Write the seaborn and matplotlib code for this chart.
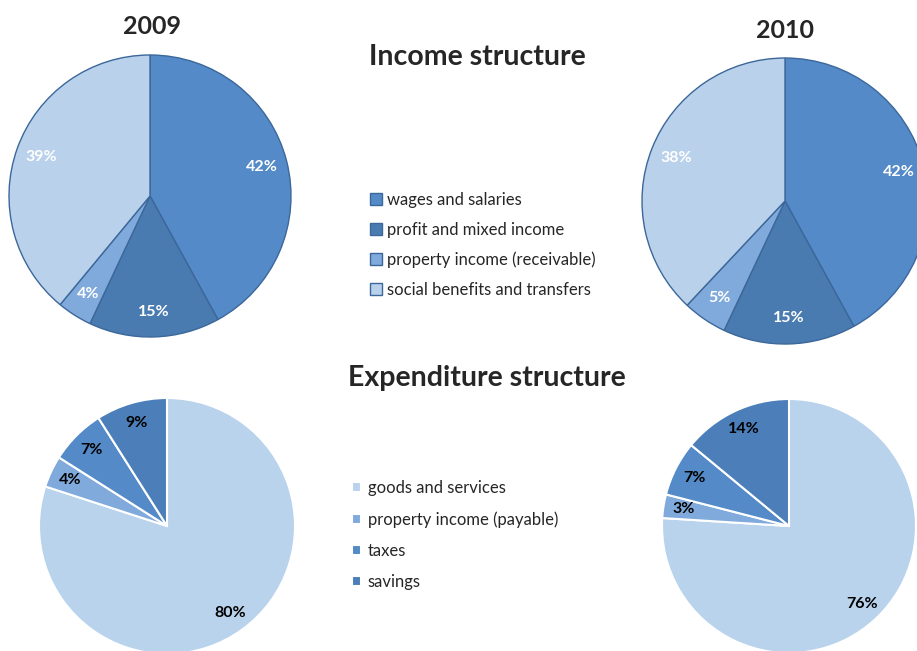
import seaborn as sns
import matplotlib.pyplot as plt

sns.set_style("white")
plt.rcParams['font.family'] = ['Lato', 'DejaVu Sans']

# Data
years = ['2009', '2010']
income_labels = ['wages and salaries', 'profit and mixed income',
                 'property income (receivable)', 'social benefits and transfers']
income_2009 = [42, 15, 4, 39]
income_2010 = [42, 15, 5, 38]
income_colors = ['#538AC7', '#4A7BB0', '#80AADC', '#B9D1EA']

expend_labels = ['goods and services', 'property income (payable)', 'taxes', 'savings']
expend_2009 = [80, 4, 7, 9]
expend_2010 = [76, 3, 7, 14]
expend_colors = ['#B9D3EC', '#80AADC', '#538AC7', '#4C7FBA']

W, H = 917, 651
fig = plt.figure(figsize=(W / 100, H / 100), dpi=100)


def pie_axes(cx, cy, r):
    # place an axes so that a unit pie has its centre at (cx, cy) px, radius r px
    ax = fig.add_axes([(cx - r) / W, 1 - (cy + r) / H, 2 * r / W, 2 * r / H])
    ax.set_xlim(-1, 1)
    ax.set_ylim(-1, 1)
    ax.axis('off')
    return ax


def draw_pie(ax, values, colors, edge, lw, txtcolor, pctdist):
    wedges, _, autotexts = ax.pie(values, colors=colors, startangle=90, counterclock=False,
                                  radius=1, autopct=lambda p: f'{p:.0f}%', pctdistance=pctdist,
                                  wedgeprops=dict(edgecolor=edge, linewidth=lw))
    for w in wedges:
        w.set_clip_on(False)
    for t in autotexts:
        t.set_color(txtcolor)
        t.set_fontweight('bold')
        t.set_fontsize(11.5)
    ax.set_xlim(-1, 1)
    ax.set_ylim(-1, 1)
    return wedges


# Income pies
ax1 = pie_axes(150, 196, 141)
w_inc = draw_pie(ax1, income_2009, income_colors, '#3C679A', 1.0, 'white', 0.82)
ax2 = pie_axes(785, 201, 143)
draw_pie(ax2, income_2010, income_colors, '#3C679A', 1.0, 'white', 0.82)

# Expenditure pies
ax3 = pie_axes(167, 526, 128)
w_exp = draw_pie(ax3, expend_2009, expend_colors, 'white', 1.5, 'black', 0.84)
ax4 = pie_axes(789, 526, 127)
draw_pie(ax4, expend_2010, expend_colors, 'white', 1.5, 'black', 0.84)

# Titles
fig.text(152 / W, 1 - 27 / H, years[0], ha='center', va='center', fontsize=18, fontweight='bold')
fig.text(785 / W, 1 - 30 / H, years[1], ha='center', va='center', fontsize=18, fontweight='bold')
fig.text(477 / W, 1 - 57 / H, 'Income structure', ha='center', va='center', fontsize=20.5, fontweight='bold')
fig.text(487 / W, 1 - 378 / H, 'Expenditure structure', ha='center', va='center', fontsize=20.5, fontweight='bold')

# Legends
fig.legend(w_inc, income_labels, loc='upper left', bbox_to_anchor=(370 / W, 1 - 192 / H),
           frameon=False, fontsize=12, handlelength=0.72, handleheight=0.72,
           handletextpad=0.28, labelspacing=0.82, borderpad=0, borderaxespad=0)
fig.legend(w_exp, expend_labels, loc='upper left', bbox_to_anchor=(352 / W, 1 - 480 / H),
           frameon=False, fontsize=12, handlelength=0.55, handleheight=0.55,
           handletextpad=0.38, labelspacing=0.9, borderpad=0, borderaxespad=0)

fig.savefig('out.png', dpi=100)
